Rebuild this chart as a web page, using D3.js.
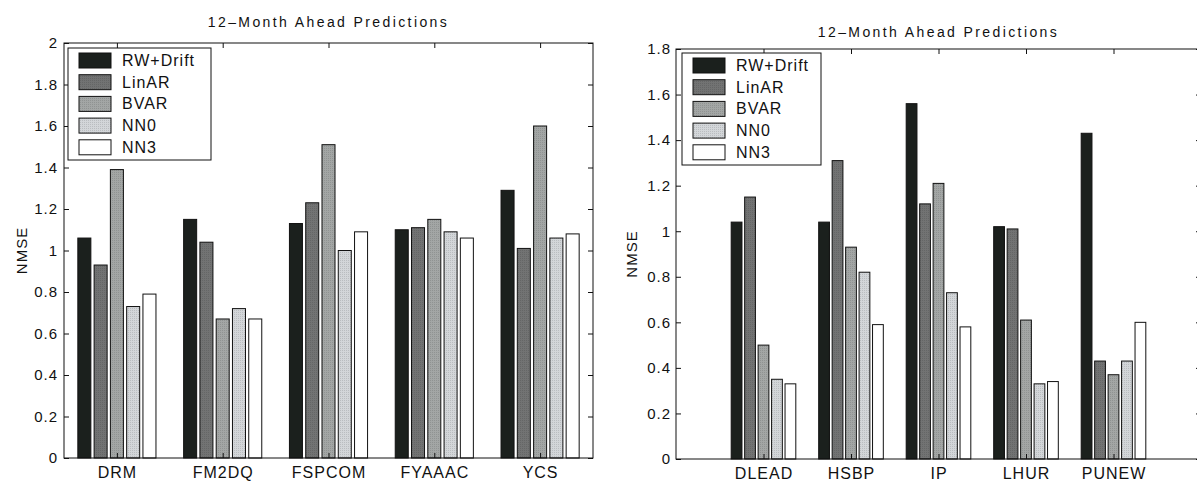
<!DOCTYPE html>
<html>
<head>
<meta charset="utf-8">
<script src="https://cdn.jsdelivr.net/npm/d3@7/dist/d3.min.js"></script>
<style>
  body { margin: 0; background: #fff; }
  text { font-family: "Liberation Sans", Arial, Helvetica, sans-serif; fill: #111; }
</style>
</head>
<body>
<div id="chart"></div>
<script>
// series names and fills
const seriesNames = ["RW+Drift", "LinAR", "BVAR", "NN0", "NN3"];
const seriesFills = ["#1b201d", "#727373", "#a3a6a5", "#d3d6d9", "#ffffff"];

// left panel
const leftCategories = ["DRM", "FM2DQ", "FSPCOM", "FYAAAC", "YCS"];
const leftRwDrift = [1.06, 1.15, 1.13, 1.10, 1.29];
const leftLinAR   = [0.93, 1.04, 1.23, 1.11, 1.01];
const leftBVAR    = [1.39, 0.67, 1.51, 1.15, 1.60];
const leftNN0     = [0.73, 0.72, 1.00, 1.09, 1.06];
const leftNN3     = [0.79, 0.67, 1.09, 1.06, 1.08];
const leftTicks = [0, 0.2, 0.4, 0.6, 0.8, 1, 1.2, 1.4, 1.6, 1.8, 2];

// right panel
const rightCategories = ["DLEAD", "HSBP", "IP", "LHUR", "PUNEW"];
const rightRwDrift = [1.04, 1.04, 1.56, 1.02, 1.43];
const rightLinAR   = [1.15, 1.31, 1.12, 1.01, 0.43];
const rightBVAR    = [0.50, 0.93, 1.21, 0.61, 0.37];
const rightNN0     = [0.35, 0.82, 0.73, 0.33, 0.43];
const rightNN3     = [0.33, 0.59, 0.58, 0.34, 0.60];
const rightTicks = [0, 0.2, 0.4, 0.6, 0.8, 1, 1.2, 1.4, 1.6, 1.8];

const title = "12\u2013Month Ahead Predictions";

const svg = d3.select("#chart").append("svg")
  .attr("width", 1197)
  .attr("height", 484);

// halftone-ish fills like the printed figure
const defs = svg.append("defs");
seriesFills.forEach((c, i) => {
  const p = defs.append("pattern")
    .attr("id", "fill" + i)
    .attr("width", 2)
    .attr("height", 2)
    .attr("patternUnits", "userSpaceOnUse");
  p.append("rect").attr("width", 2).attr("height", 2).attr("fill", c);
  if (i > 0 && i < 4) {
    p.append("rect").attr("width", 1).attr("height", 1)
      .attr("fill", d3.color(c).darker(0.35));
  }
});

function drawPanel(opt) {
  const g = svg.append("g");
  const x = d3.scaleLinear().domain(opt.xDomain).range([opt.left, opt.right]);
  const y = d3.scaleLinear().domain([0, opt.yMax]).range([opt.bottom, opt.top]);

  const n = seriesNames.length;
  const groupWidth = Math.min(0.8, n / (n + 1.5));
  const step = groupWidth / n;
  const barW = step * 0.8;

  const data = [];
  opt.series.forEach((vals, si) => {
    vals.forEach((v, ci) => {
      data.push({ si, pos: ci + 1 - groupWidth / 2 + step * (si + 0.5), value: v });
    });
  });

  g.selectAll("rect.bar")
    .data(data)
    .enter()
    .append("rect")
    .attr("class", "bar")
    .attr("x", (d) => x(d.pos - barW / 2))
    .attr("y", (d) => y(d.value))
    .attr("width", (d) => x(d.pos + barW / 2) - x(d.pos - barW / 2))
    .attr("height", (d) => y(0) - y(d.value))
    .attr("fill", (d) => `url(#fill${d.si})`)
    .attr("stroke", "#111")
    .attr("stroke-width", 1);

  // box
  g.append("rect")
    .attr("x", opt.left)
    .attr("y", opt.top)
    .attr("width", opt.right - opt.left)
    .attr("height", opt.bottom - opt.top)
    .attr("fill", "none")
    .attr("stroke", "#111")
    .attr("stroke-width", 1);

  const centers = opt.categories.map((c, i) => i + 1);

  const yAxis = g.append("g")
    .attr("transform", `translate(${opt.left},0)`)
    .call(d3.axisLeft(y).tickValues(opt.ticks).tickFormat(d3.format("~g"))
      .tickSizeInner(-5).tickSizeOuter(0).tickPadding(opt.yPad));
  yAxis.select(".domain").remove();
  yAxis.selectAll("text").attr("font-size", 15).attr("letter-spacing", 1);

  const yAxisR = g.append("g")
    .attr("transform", `translate(${opt.right},0)`)
    .call(d3.axisRight(y).tickValues(opt.ticks).tickFormat("").tickSizeInner(-5).tickSizeOuter(0));
  yAxisR.select(".domain").remove();

  const xAxis = g.append("g")
    .attr("transform", `translate(0,${opt.bottom})`)
    .call(d3.axisBottom(x).tickValues(centers).tickFormat((d) => opt.categories[d - 1])
      .tickSizeInner(-5).tickSizeOuter(0).tickPadding(9));
  xAxis.select(".domain").remove();
  xAxis.selectAll("text").attr("font-size", 16).attr("letter-spacing", 1);

  const xAxisT = g.append("g")
    .attr("transform", `translate(0,${opt.top})`)
    .call(d3.axisTop(x).tickValues(centers).tickFormat("").tickSizeInner(-5).tickSizeOuter(0));
  xAxisT.select(".domain").remove();

  g.selectAll(".tick line").attr("stroke", "#111");

  g.append("text")
    .attr("x", (opt.left + opt.right) / 2)
    .attr("y", opt.titleY)
    .attr("text-anchor", "middle")
    .attr("font-size", 14)
    .attr("letter-spacing", 2.4)
    .text(title);

  g.append("text")
    .attr("transform", `translate(${opt.labelX},${(opt.top + opt.bottom) / 2}) rotate(-90)`)
    .attr("text-anchor", "middle")
    .attr("font-size", 15)
    .attr("letter-spacing", 1)
    .text("NMSE");

  // legend
  const lg = g.append("g").attr("transform", `translate(${opt.legX},${opt.legY})`);
  lg.append("rect")
    .attr("width", opt.legW)
    .attr("height", 112)
    .attr("fill", "#fff")
    .attr("stroke", "#111");
  seriesNames.forEach((name, i) => {
    lg.append("rect")
      .attr("x", 11)
      .attr("y", 5 + i * 21.7)
      .attr("width", 32)
      .attr("height", 15)
      .attr("fill", `url(#fill${i})`)
      .attr("stroke", "#111");
    lg.append("text")
      .attr("x", 54)
      .attr("y", 5 + i * 21.7 + 13)
      .attr("font-size", 16)
      .attr("letter-spacing", 1)
      .text(name);
  });
}

drawPanel({
  categories: leftCategories,
  series: [leftRwDrift, leftLinAR, leftBVAR, leftNN0, leftNN3],
  ticks: leftTicks,
  yMax: 2,
  xDomain: [0.5, 5.5],
  left: 64, right: 593, top: 43, bottom: 458,
  yPad: 6, titleY: 27, labelX: 27,
  legX: 68, legY: 48, legW: 143
});

drawPanel({
  categories: rightCategories,
  series: [rightRwDrift, rightLinAR, rightBVAR, rightNN0, rightNN3],
  ticks: rightTicks,
  yMax: 1.8,
  xDomain: [0, 6],
  left: 676, right: 1201, top: 49, bottom: 459,
  yPad: 5, titleY: 37, labelX: 637,
  legX: 682, legY: 53, legW: 139
});
</script>
</body>
</html>
